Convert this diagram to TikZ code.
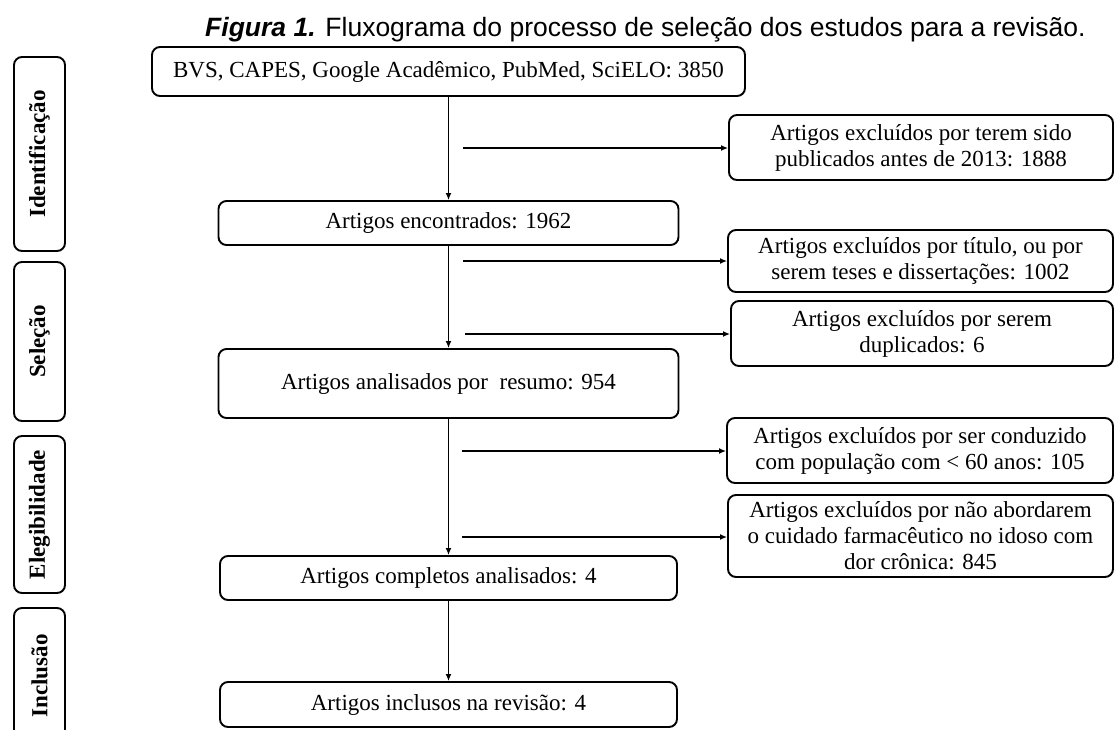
\documentclass[tikz,border=0pt]{standalone}
\usepackage{fontspec}
\setmainfont{Liberation Serif}
\newfontfamily\titlefont{Liberation Sans}
\usetikzlibrary{arrows.meta}
\tikzset{
  box/.style={draw, rounded corners=8pt, line width=1.9pt, inner sep=0pt, align=center,
    font=\fontsize{23}{26}\selectfont},
  sidebox/.style={box, rotate=90, minimum height=51pt, font=\bfseries\fontsize{23}{26}\selectfont},
  conn/.style={line width=1.6pt, -{Latex[length=7pt,width=6pt]}},
}
\begin{document}
\begin{tikzpicture}[x=1pt,y=-1pt]
\useasboundingbox (0,0) rectangle (1114,729);
\clip (0,0) rectangle (1114,729);
\fill[white] (0,0) rectangle (1114,729);

\node[anchor=base west, inner sep=0pt, font=\titlefont\fontsize{26.5}{30}\selectfont] (title) at (205,36)
  {\textbf{\textit{Figura 1.}} Fluxograma do processo de seleção dos estudos para a revisão.};

% side phase boxes
\node[sidebox, minimum width=194pt] (s1) at (39.5,154) {Identificação};
\node[sidebox, minimum width=159pt] (s2) at (39.5,341.5) {Seleção};
\node[sidebox, minimum width=157pt] (s3) at (39.5,514.5) {Elegibilidade};
\node[sidebox, minimum width=136pt] (s4) at (39.5,676) {Inclusão};

% main column
\node[box, minimum width=593pt, minimum height=49pt] (b1) at (448.5,71.5) {BVS, CAPES, Google Acadêmico, PubMed, SciELO: 3850};
\node[box, minimum width=460pt, minimum height=44pt] (b2) at (448.5,223) {Artigos encontrados: 1962};
\node[box, minimum width=460pt, minimum height=69pt] (b3) at (448.5,383.5) {Artigos analisados por\ \ resumo: 954};
\node[box, minimum width=457pt, minimum height=44pt] (b4) at (448.5,578) {Artigos completos analisados: 4};
\node[box, minimum width=457pt, minimum height=45pt] (b5) at (448.5,704.5) {Artigos inclusos na revisão: 4};

% exclusion boxes
\node[box, minimum width=384pt, minimum height=65pt] (r1) at (921,147.5) {Artigos excluídos por terem sido\\publicados antes de 2013: 1888};
\node[box, minimum width=385pt, minimum height=62pt] (r2) at (920.5,261) {Artigos excluídos por título, ou por\\serem teses e dissertações: 1002};
\node[box, minimum width=382pt, minimum height=65pt] (r3) at (922,333.5) {Artigos excluídos por serem\\duplicados: 6};
\node[box, minimum width=386pt, minimum height=65pt] (r4) at (920,450.5) {Artigos excluídos por ser conduzido\\com população com < 60 anos: 105};
\node[box, minimum width=385pt, minimum height=82pt] (r5) at (920.5,536) {Artigos excluídos por não abordarem\\o cuidado farmacêutico no idoso com\\dor crônica: 845};

% vertical flow
\draw[conn] (b1.south) -- (b2.north);
\draw[conn] (b2.south) -- (b3.north);
\draw[conn] (b3.south) -- (b4.north);
\draw[conn] (b4.south) -- (b5.north);

% exclusion arrows
\coordinate (h1) at (463,148);
\coordinate (h2) at (463,261);
\coordinate (h3) at (465,334);
\coordinate (h4) at (462,451);
\coordinate (h5) at (462,537);
\draw[conn] (h1) -- (h1 -| r1.west);
\draw[conn] (h2) -- (h2 -| r2.west);
\draw[conn] (h3) -- (h3 -| r3.west);
\draw[conn] (h4) -- (h4 -| r4.west);
\draw[conn] (h5) -- (h5 -| r5.west);
\end{tikzpicture}
\end{document}
